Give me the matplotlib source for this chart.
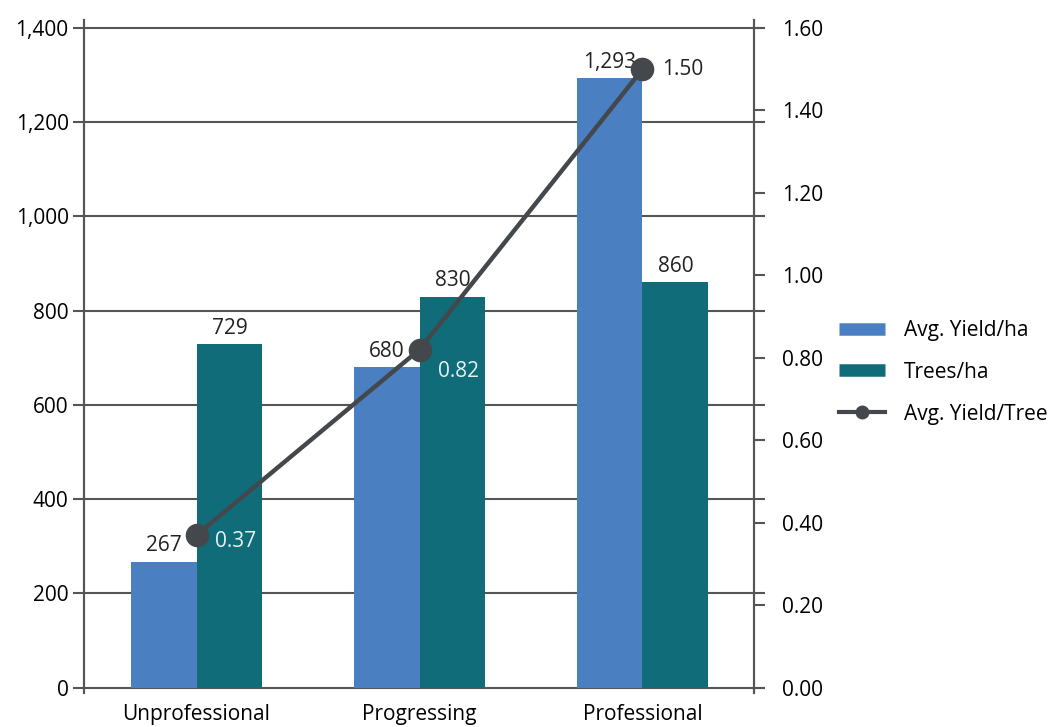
import matplotlib
matplotlib.use("Agg")
import matplotlib.pyplot as plt
from matplotlib.lines import Line2D
from matplotlib.ticker import FuncFormatter

plt.rcParams['font.family'] = ['Open Sans', 'DejaVu Sans']

# data
categories = ["Unprofessional", "Progressing", "Professional"]
yield_ha = [267, 680, 1293]
trees_ha = [729, 830, 860]
yield_tree = [0.37, 0.82, 1.50]

blue = "#4a7fc1"
teal = "#106c78"
grey = "#44484c"
line_c = "#555555"
fs = 15

fig = plt.figure(figsize=(10.64, 7.27), dpi=100)
ax = fig.add_axes([0.0789, 0.047, 0.6297, 0.9255])
ax2 = ax.twinx()

x = list(range(len(categories)))
w = 0.295
b1 = ax.bar([i - w / 2 for i in x], yield_ha, width=w, color=blue, zorder=2)
b2 = ax.bar([i + w / 2 for i in x], trees_ha, width=w, color=teal, zorder=2)
ax.bar_label(b1, labels=[f"{v:,}" for v in yield_ha], padding=4, fontsize=fs, color="#222222")
ax.bar_label(b2, labels=[f"{v:,}" for v in trees_ha], padding=4, fontsize=fs, color="#222222")

ax.set_xlim(-0.505, 2.5)
ax.set_ylim(-11, 1417)
ax.set_yticks(range(0, 1401, 200))
ax.yaxis.set_major_formatter(FuncFormatter(lambda v, p: f"{int(v):,}"))
ax.grid(axis="y", color=line_c, linewidth=1.5)
ax.set_axisbelow(True)
ax.set_xticks(x)
ax.set_xticklabels(categories, fontsize=fs)
ax.tick_params(axis="x", length=0, pad=8)
ax.tick_params(axis="y", left=True, right=True, length=8, width=1.5, color=line_c,
               labelsize=fs, pad=3)

ax2.set_ylim(-11 / 875, 1417 / 875)
ax2.set_yticks([i * 0.2 for i in range(9)])
ax2.yaxis.set_major_formatter(FuncFormatter(lambda v, p: f"{v:.2f}"))
ax2.tick_params(axis="y", length=8, width=1.5, color=line_c, labelsize=fs, pad=12)
ax2.plot(x, yield_tree, color=grey, linewidth=3.2, marker="o", markersize=16, zorder=5)

offsets = [(18, -6), (18, -22), (20, 0)]
txt_colors = ["#e6f2f2", "#e6f2f2", "#222222"]
for xi, v, off, c in zip(x, yield_tree, offsets, txt_colors):
    ax2.annotate(f"{v:.2f}", (xi, v), xytext=off, textcoords="offset pixels",
                 ha="left", va="center", fontsize=fs, color=c)

for a in (ax, ax2):
    a.spines["top"].set_visible(False)
    a.spines["bottom"].set_visible(False)
    a.spines["left"].set_color(line_c)
    a.spines["right"].set_color(line_c)
    a.spines["left"].set_linewidth(1.5)
    a.spines["right"].set_linewidth(1.5)

handles = [
    Line2D([], [], color=blue, linewidth=9, solid_capstyle="butt"),
    Line2D([], [], color=teal, linewidth=9, solid_capstyle="butt"),
    Line2D([], [], color=grey, linewidth=3, marker="o", markersize=9),
]
fig.legend(handles, ["Avg. Yield/ha", "Trees/ha", "Avg. Yield/Tree"],
           loc="center left", bbox_to_anchor=(0.771, 0.488), frameon=False,
           fontsize=fs, handlelength=2.2, labelspacing=1.0, handletextpad=0.9)

fig.savefig("out.png", dpi=100)
